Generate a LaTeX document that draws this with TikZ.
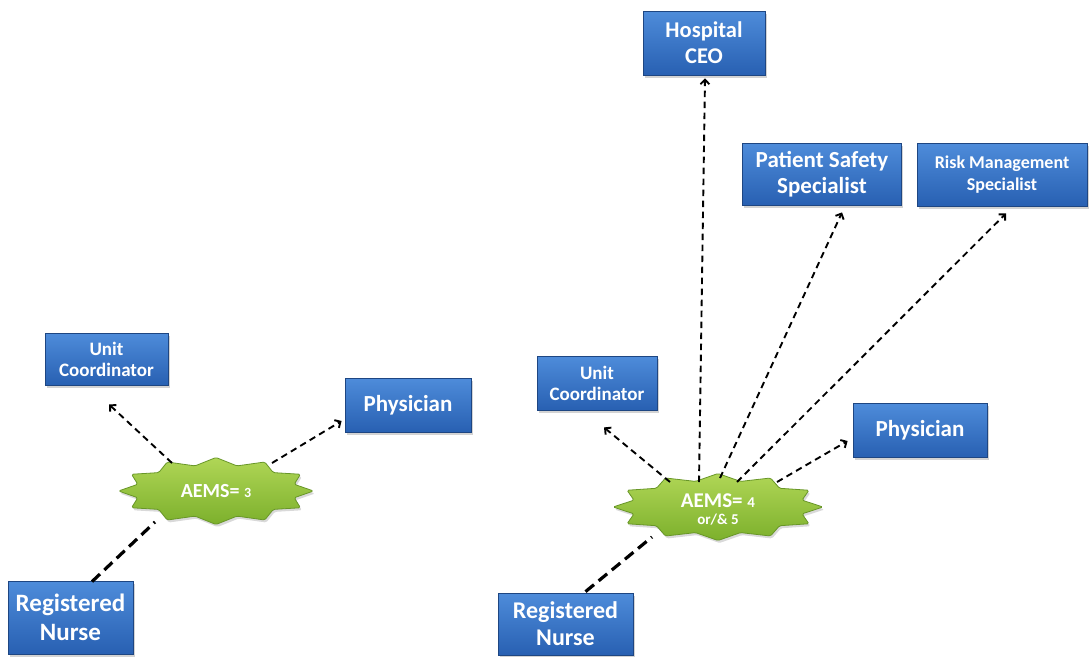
\documentclass[tikz,border=0pt]{standalone}
\usepackage{fontspec}
\setmainfont{Carlito}
\usetikzlibrary{calc,shadows,arrows.meta,shapes.geometric}
\definecolor{boxtop}{RGB}{78,140,218}
\definecolor{boxbot}{RGB}{40,96,178}
\definecolor{boxline}{RGB}{30,70,130}
\definecolor{sealtop}{RGB}{176,214,86}
\definecolor{sealbot}{RGB}{124,176,44}
\definecolor{sealline}{RGB}{104,150,40}
\tikzset{
  x=1pt,y=1pt,
  bluebox/.style={rectangle, draw=boxline, line width=0.8pt, top color=boxtop, bottom color=boxbot,
    text=white, font=\bfseries, align=center, inner sep=0pt,
    drop shadow={shadow xshift=1.5pt,shadow yshift=-2.5pt,opacity=0.35}},
  sealtext/.style={ellipse, draw=none, inner sep=0pt, text=white, font=\bfseries, align=center},
  seal/.style={top color=sealtop, bottom color=sealbot, draw=sealline, line width=0.8pt, rounded corners=1.5pt,
    drop shadow={shadow xshift=1.5pt,shadow yshift=-2.5pt,opacity=0.3}},
  arr/.style={-{Straight Barb[length=4.5pt,width=9pt]}, line width=1.9pt, dash pattern=on 6.5pt off 4.5pt},
  nurseline/.style={line width=3.2pt, dash pattern=on 11pt off 6pt},
}
\begin{document}
\begin{tikzpicture}
\useasboundingbox (0,0) rectangle (1091,-656);

% boxes
\node[bluebox, minimum width=123, minimum height=52, font=\bfseries\fontsize{19}{21}\selectfont] (uc1) at (106.5,-359) {Unit\\Coordinator};
\node[bluebox, minimum width=126, minimum height=54, font=\bfseries\fontsize{23}{27}\selectfont] (ph1) at (408,-405) {Physician};
\node[bluebox, minimum width=125, minimum height=73, font=\bfseries\fontsize{25}{29}\selectfont] (rn1) at (70.5,-617.5) {Registered\\Nurse};

\node[bluebox, minimum width=122, minimum height=64, font=\bfseries\fontsize{22.5}{26}\selectfont] (ceo) at (704,-43) {Hospital\\CEO};
\node[bluebox, minimum width=159, minimum height=62, font=\bfseries\fontsize{23}{26}\selectfont] (pss) at (822,-174) {Patient Safety\\Specialist};
\node[bluebox, minimum width=170, minimum height=63, font=\bfseries\fontsize{18}{22}\selectfont] (rms) at (1002,-174.5) {Risk Management\\Specialist};
\node[bluebox, minimum width=120, minimum height=54, font=\bfseries\fontsize{19}{21}\selectfont] (uc2) at (597,-383) {Unit\\Coordinator};
\node[bluebox, minimum width=134, minimum height=54, font=\bfseries\fontsize{23}{27}\selectfont] (ph2) at (920,-430) {Physician};
\node[bluebox, minimum width=135, minimum height=62, font=\bfseries\fontsize{24}{27}\selectfont] (rn2) at (565.5,-624) {Registered\\Nurse};

% seals
\coordinate (c1) at (216,-491);
\coordinate (c2) at (718,-507);
\path[seal] ($(c1)+(0:97.5 and 33.5)$)
  \foreach \k in {1,...,11}{ -- ($(c1)+(\k*30-15:81 and 26)$) -- ($(c1)+(\k*30:97.5 and 33.5)$) }
  -- ($(c1)+(345:81 and 26)$) -- cycle;
\path[seal] ($(c2)+(0:105 and 33.5)$)
  \foreach \k in {1,...,11}{ -- ($(c2)+(\k*30-15:87 and 26.5)$) -- ($(c2)+(\k*30:105 and 33.5)$) }
  -- ($(c2)+(345:87 and 26.5)$) -- cycle;
\node[sealtext, minimum width=150, minimum height=50] (s1) at (c1)
  {\fontsize{20}{24}\selectfont AEMS= {\fontsize{14}{15}\selectfont 3}};
\node[sealtext, minimum width=160, minimum height=50, yshift=-2pt] (s2) at (c2)
  {\fontsize{21}{22}\selectfont AEMS= {\fontsize{15}{16}\selectfont 4}\\[5pt]{\fontsize{15}{16}\selectfont or/\& 5}};

% connectors left
\draw[arr] ($(s1)+(-44,28)$) -- ($(uc1.south)+(2.5,-19)$);
\draw[arr] ($(s1)+(56,28)$) -- ($(ph1.west)+(-3,-16)$);
\draw[nurseline] ($(rn1.north)+(21.5,-1)$) -- ($(s1)+(-61,-31)$);

% connectors right
\draw[arr] ($(s2)+(-48,27)$) -- ($(uc2.south)+(7,-17)$);
\draw[arr] ($(s2)+(-19,27)$) -- ($(ceo.south)+(1,-3)$);
\draw[arr] ($(s2)+(2,31)$) -- ($(pss.south)+(20,-7)$);
\draw[arr] ($(s2)+(19,27)$) -- ($(rms.south)+(4,-7)$);
\draw[arr] ($(s2)+(59,27)$) -- ($(ph2.west)+(-5,-11)$);
\draw[nurseline] ($(rn2.north)+(20,1)$) -- ($(s2)+(-66,-28)$);
\end{tikzpicture}
\end{document}
